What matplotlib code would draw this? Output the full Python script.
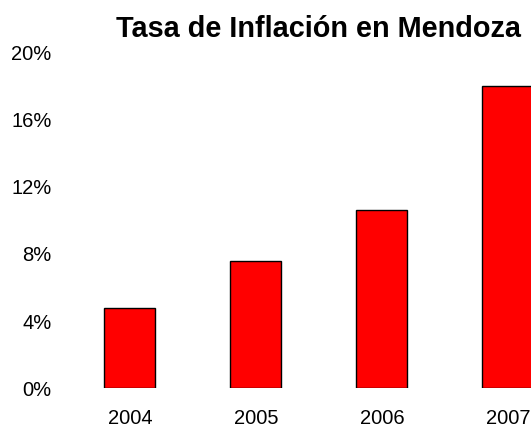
import matplotlib
matplotlib.use("Agg")
import matplotlib.pyplot as plt
import numpy as np

plt.rcParams['font.family'] = ['Liberation Sans', 'DejaVu Sans']

years = ['2004', '2005', '2006', '2007']
inflation = [4.8, 7.6, 10.6, 18.0]
yticks = [0, 4, 8, 12, 16, 20]

fig = plt.figure(figsize=(5.31, 4.28), dpi=100)
# axes runs past the right edge, as in the original crop
ax = fig.add_axes([0.126, 0.0923, 0.949, 0.786])

x = np.arange(len(years))
ax.bar(x, inflation, width=0.405, color='#ff0000', edgecolor='black', linewidth=1)

ax.set_xlim(-0.5, 3.5)
ax.set_ylim(0, 20)
ax.set_xticks(x)
ax.set_xticklabels(years)
ax.set_yticks(yticks)
ax.set_yticklabels([str(t) + '%' for t in yticks])
ax.tick_params(length=0, labelsize=14.5)
ax.tick_params(axis='x', pad=14.5)
ax.tick_params(axis='y', pad=11)
for s in ax.spines.values():
    s.set_visible(False)

ax.set_title('Tasa de Inflación en Mendoza', fontsize=20.8, fontweight='bold', pad=11)

fig.savefig('out.png', dpi=100)
